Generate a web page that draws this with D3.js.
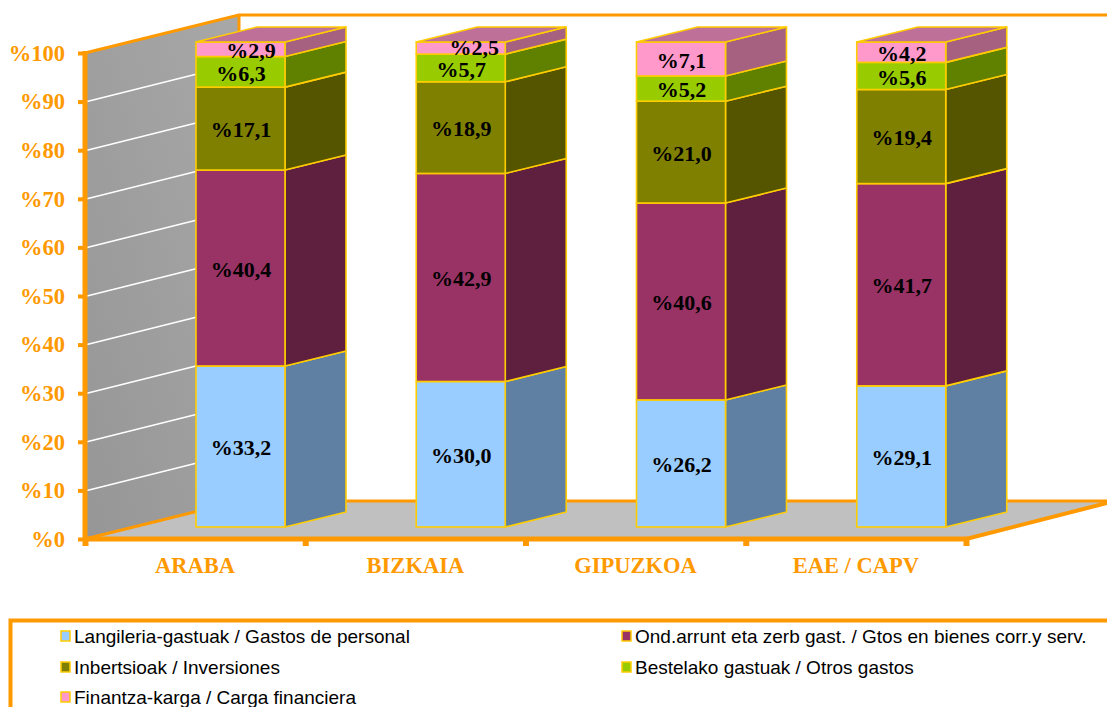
<!DOCTYPE html>
<html><head><meta charset="utf-8">
<script src="https://cdn.jsdelivr.net/npm/d3@7/dist/d3.min.js"></script>
<style>html,body{margin:0;padding:0;background:#fff;overflow:hidden}svg{display:block}</style>
</head><body><svg id="c" width="1107" height="707"></svg>
<script>
const categories = ["ARABA","BIZKAIA","GIPUZKOA","EAE / CAPV"];
const seriesNames = ["Langileria-gastuak / Gastos de personal","Ond.arrunt eta zerb gast. / Gtos en bienes corr.y serv.","Inbertsioak / Inversiones","Bestelako gastuak / Otros gastos","Finantza-karga / Carga financiera"];
const langileria = [33.2,30.0,26.2,29.1];
const ondasun = [40.4,42.9,40.6,41.7];
const inbertsioak = [17.1,18.9,21.0,19.4];
const bestelako = [6.3,5.7,5.2,5.6];
const finantza = [2.9,2.5,7.1,4.2];
const yTicks = [0,10,20,30,40,50,60,70,80,90,100];
const frontColors = ["#99CCFF","#993366","#808000","#99CC00","#FF99CC"];
const sideColors = ["#5F7FA3","#5F1F3F","#555500","#608000","#A66080"];
const topColor = "#BF7099";
const edge = "#FFCC00", orange = "#FF9900";

const seriesValues = [langileria,ondasun,inbertsioak,bestelako,finantza];
const svg = d3.select("#c");
const fmt = v => "%" + v.toFixed(1).replace(".",",");

// Plot geometry
const x0 = 85, x1 = 966, wallDx = 154, wallDy = -38;
const yAxis = d3.scaleLinear().domain([0,100]).range([539,53]);
const yBar = d3.scaleLinear().domain([0,100]).range([527,42]);
const x = d3.scaleBand().domain(categories).range([x0,x1]);
const barOffset = 111, barW = 89, depthX = 61, depthY = -15;

const defs = svg.append("defs");
const g = defs.append("linearGradient").attr("id","wall").attr("x1",0).attr("y1",1).attr("x2",1).attr("y2",0);
g.append("stop").attr("offset",0).attr("stop-color","#969696");
g.append("stop").attr("offset",1).attr("stop-color","#A8A8A8");

const pts = a => a.map(p=>p.join(",")).join(" ");
// wall and floor
svg.append("polygon").attr("points",pts([[x0,53],[x0+wallDx,53+wallDy],[x0+wallDx,539+wallDy],[x0,539]])).attr("fill","url(#wall)");
svg.append("polygon").attr("points",pts([[x0,539],[x0+wallDx,539+wallDy],[1107,501],[1107,504],[x1,539]])).attr("fill","#C0C0C0");
// gridlines
svg.append("g").selectAll("line").data(yTicks.filter(t=>t>0&&t<100)).join("line")
  .attr("x1",x0+2).attr("y1",d=>yAxis(d)).attr("x2",x0+wallDx).attr("y2",d=>yAxis(d)+wallDy)
  .attr("stroke","#fff").attr("stroke-width",1.5);
// wall/floor edges
svg.append("polyline").attr("points",pts([[x0,53],[x0+wallDx,15],[1107,15]])).attr("fill","none").attr("stroke",orange).attr("stroke-width",3);
svg.append("line").attr("x1",x0+wallDx).attr("y1",15).attr("x2",x0+wallDx).attr("y2",501).attr("stroke",orange).attr("stroke-width",3);
svg.append("polyline").attr("points",pts([[x0,539],[x0+wallDx,501],[1107,501]])).attr("fill","none").attr("stroke",orange).attr("stroke-width",3);
svg.append("line").attr("x1",x1).attr("y1",539).attr("x2",1107).attr("y2",503).attr("stroke",orange).attr("stroke-width",4);

// axes
const axL = svg.append("g").attr("transform",`translate(${x0},0)`)
  .call(d3.axisLeft(yAxis).tickValues(yTicks).tickFormat(d=>"%"+d).tickSize(7).tickPadding(13));
axL.select(".domain").attr("stroke",orange).attr("stroke-width",5).attr("d","M0,51V541");
axL.selectAll("line").attr("stroke",orange).attr("stroke-width",4);
axL.selectAll("text").attr("fill",orange).attr("font-family","'Liberation Serif'").attr("font-weight","bold").attr("font-size",22.5);
const axB = svg.append("g").attr("transform","translate(0,539)")
  .call(d3.axisBottom(d3.scaleLinear().domain([0,4]).range([x0,x1])).ticks(4).tickFormat("").tickSize(7));
axB.select(".domain").attr("stroke",orange).attr("stroke-width",5).attr("d",`M${x0},0H${x1+2}`);
axB.selectAll("line").attr("stroke",orange).attr("stroke-width",6);
svg.append("g").selectAll("text").data(categories).join("text")
  .attr("x",d=>x(d)+x.bandwidth()/2).attr("y",573).attr("text-anchor","middle")
  .attr("fill",orange).attr("font-family","'Liberation Serif'").attr("font-weight","bold").attr("font-size",22.5).text(d=>d);

// stacked 3D bars
const rows = categories.map((c,i)=>{const o={cat:c};seriesNames.forEach((s,j)=>o[s]=seriesValues[j][i]);return o;});
const stacked = d3.stack().keys(seriesNames)(rows);
const bars = svg.append("g");
const labelShift = {"ARABA|4":[10,0],"BIZKAIA|4":[13,-2]};
rows.forEach((row,ci)=>{
  const left = x(row.cat)+barOffset, right = left+barW;
  const b = bars.append("g");
  const topY = yBar(100);
  stacked.forEach((s,si)=>{
    const d = s[ci];
    // Last segment closes at the common 100% top
    const yb = yBar(d[0]), yt = si===stacked.length-1 ? topY : yBar(d[1]);
    b.append("polygon").attr("points",pts([[right,yb],[right+depthX,yb+depthY],[right+depthX,yt+depthY],[right,yt]]))
      .attr("fill",sideColors[si]).attr("stroke",edge).attr("stroke-width",1.6).attr("stroke-linejoin","round");
    b.append("rect").attr("x",left).attr("y",yt).attr("width",barW).attr("height",yb-yt)
      .attr("fill",frontColors[si]).attr("stroke",edge).attr("stroke-width",1.6);
  });
  b.append("polygon").attr("points",pts([[left,topY],[left+depthX,topY+depthY],[right+depthX,topY+depthY],[right,topY]]))
    .attr("fill",topColor).attr("stroke",edge).attr("stroke-width",1.6).attr("stroke-linejoin","round");
});
// data labels
rows.forEach((row,ci)=>{
  stacked.forEach((s,si)=>{
    const d = s[ci], left = x(row.cat)+barOffset;
    const yb = yBar(d[0]), yt = si===stacked.length-1 ? yBar(100) : yBar(d[1]);
    const cy = (yb+yt)/2;
    const shift = labelShift[row.cat+"|"+si] || [0,0];
    svg.append("text").attr("x",left+45+shift[0]).attr("y",cy+1+shift[1])
      .attr("dy","0.35em").attr("text-anchor","middle").attr("fill","#000")
      .attr("font-family","'Liberation Serif'").attr("font-weight","bold").attr("font-size",22)
      .text(fmt(seriesValues[si][ci]));
  });
});

// legend
svg.append("path").attr("d","M1107,620.5H10.5V707").attr("fill","none").attr("stroke",orange).attr("stroke-width",4);
const legendPos = [[60,636],[621,636],[60,667],[621,667],[60,697]];
const leg = svg.append("g").selectAll("g").data(seriesNames).join("g")
  .attr("transform",(d,i)=>`translate(${legendPos[i][0]},${legendPos[i][1]})`);
leg.append("rect").attr("x",1).attr("y",-5).attr("width",9).attr("height",10)
  .attr("fill",(d,i)=>frontColors[i]).attr("stroke",edge).attr("stroke-width",1.5);
leg.append("text").attr("x",14).attr("y",0).attr("dy","0.35em").attr("fill","#000")
  .attr("font-family","'Liberation Sans'").attr("font-size",19).text(d=>d);
</script></body></html>
